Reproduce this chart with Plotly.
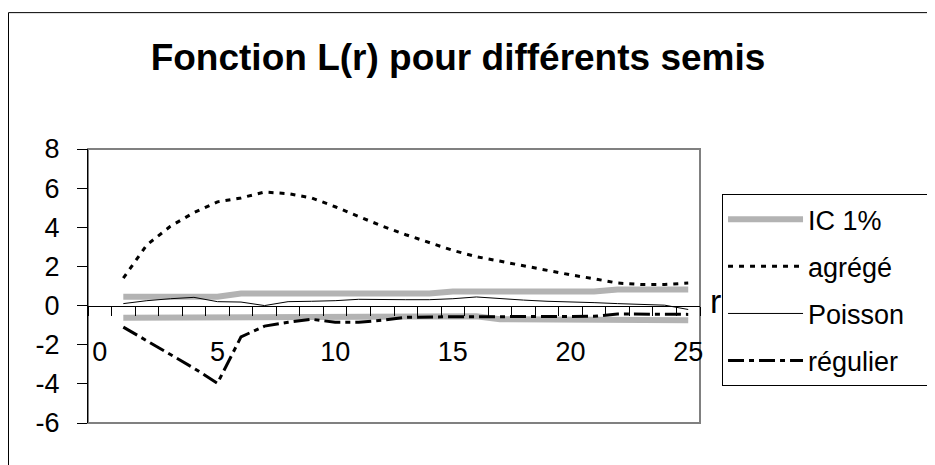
import plotly.graph_objects as go

# Données
r = list(range(1, 26))
ic_haut = [0.45, 0.45, 0.45, 0.45, 0.45, 0.62, 0.62, 0.62, 0.62, 0.62, 0.62, 0.62,
           0.62, 0.62, 0.72, 0.72, 0.72, 0.72, 0.72, 0.72, 0.72, 0.82, 0.82, 0.82, 0.82]
ic_bas = [-0.62, -0.62, -0.62, -0.62, -0.62, -0.55, -0.55, -0.55, -0.55, -0.55, -0.55,
          -0.55, -0.55, -0.55, -0.55, -0.55, -0.7, -0.7, -0.7, -0.7, -0.7, -0.7, -0.7,
          -0.72, -0.75]
agrege = [1.4, 3.1, 4.05, 4.75, 5.3, 5.5, 5.8, 5.72, 5.5, 5.05, 4.55, 4.06, 3.62,
          3.22, 2.82, 2.5, 2.27, 2.02, 1.78, 1.57, 1.37, 1.15, 1.08, 1.08, 1.15]
poisson = [0.1, 0.25, 0.35, 0.42, 0.2, 0.18, 0.0, 0.2, 0.22, 0.25, 0.32, 0.3, 0.3,
           0.3, 0.35, 0.44, 0.35, 0.28, 0.22, 0.2, 0.15, 0.1, 0.05, 0.02, -0.2]
regulier = [-1.1, -1.8, -2.5, -3.2, -3.97, -1.6, -1.05, -0.85, -0.7, -0.85, -0.85,
            -0.75, -0.6, -0.57, -0.57, -0.57, -0.57, -0.57, -0.57, -0.57, -0.55,
            -0.43, -0.43, -0.43, -0.45]
y_ticks = [-6, -4, -2, 0, 2, 4, 6, 8]
y_labels = ["-6", "-4", "-2", "0", "2", "4", "6", "8"]

FONTE = "Liberation Sans, Arial, sans-serif"
GRIS_IC = "#b3b3b3"
NBSP = "\u00a0"

fig = go.Figure()

# Bande haute de l'intervalle de confiance (porte l'axe x avec les libellés)
fig.add_trace(go.Scatter(x=r, y=ic_haut, mode="lines", name="IC 1%",
                         legendgroup="ic", line=dict(color=GRIS_IC, width=6)))

# Les autres séries sont sur le second axe x (graduations entre catégories)
fig.add_trace(go.Scatter(x=r, y=ic_bas, mode="lines", name="IC 1%",
                         legendgroup="ic", showlegend=False, xaxis="x2",
                         line=dict(color=GRIS_IC, width=6)))
fig.add_trace(go.Scatter(x=r, y=agrege, mode="lines", name="agrégé",
                         legendgroup="agrege", xaxis="x2",
                         line=dict(color="black", width=3, dash="5px,6px")))
fig.add_trace(go.Scatter(x=r, y=poisson, mode="lines", name="Poisson",
                         legendgroup="poisson", xaxis="x2",
                         line=dict(color="black", width=1)))
# espaces insécables : la boîte de légende déborde à droite comme sur l'original
fig.add_trace(go.Scatter(x=r, y=regulier, mode="lines", name="régulier" + NBSP * 4,
                         legendgroup="regulier", xaxis="x2",
                         line=dict(color="black", width=3, dash="16px,5px,5px,5px")))

fig.update_layout(
    width=935,
    height=465,
    margin=dict(l=80, r=243, t=141, b=50, autoexpand=False),
    paper_bgcolor="white",
    plot_bgcolor="white",
    font=dict(family=FONTE, size=27, color="black"),
    title=dict(
        text="<b>Fonction L(r) pour différents semis</b>",
        x=450 / 935, xanchor="center",
        y=1 - 49 / 465, yanchor="middle",
        font=dict(family=FONTE, size=37, color="black"),
    ),
    legend=dict(
        x=1.036, xanchor="left",
        y=0.835, yanchor="top",
        bordercolor="black", borderwidth=1,
        bgcolor="white",
        font=dict(family=FONTE, size=27),
        itemwidth=75,
        tracegroupgap=9,
    ),
    showlegend=True,
)

# Axe des x placé en y = 0 (libellés seulement)
fig.update_xaxes(
    range=[-0.5, 25.5],
    tickmode="linear", tick0=0, dtick=5,
    ticks="",
    showgrid=False, zeroline=False,
    showline=True, linecolor="black", linewidth=1,
    anchor="free", position=6 / 14,
    ticklabelstandoff=22,
)

# Second axe x superposé : graduations entre les catégories
fig.update_layout(
    xaxis2=dict(
        overlaying="x",
        range=[-0.5, 25.5],
        tickmode="linear", tick0=0.5, dtick=1,
        ticks="outside", ticklen=9, tickcolor="black", tickwidth=1,
        showticklabels=False,
        showgrid=False, zeroline=False, showline=False,
        anchor="free", position=6 / 14,
    )
)

fig.update_yaxes(
    range=[-6, 8],
    tickmode="array", tickvals=y_ticks, ticktext=y_labels,
    ticks="outside", ticklen=10, tickcolor="black",
    showgrid=False, zeroline=False,
    showline=True, linecolor="black", linewidth=1,
    ticklabelstandoff=12,
)

# Cadre gris de la zone de tracé
fig.add_shape(type="rect", xref="x domain", yref="y domain",
              x0=0, x1=1, y0=0, y1=1,
              line=dict(color="#808080", width=2), layer="below")

# Cadre noir du graphique (bords gauche et haut, le reste est coupé)
fig.add_shape(type="line", xref="paper", yref="paper",
              x0=-0.1299, x1=-0.1299, y0=-0.5, y1=1.4977,
              line=dict(color="black", width=1))
fig.add_shape(type="line", xref="paper", yref="paper",
              x0=-0.1299, x1=1.6, y0=1.4977, y1=1.4977,
              line=dict(color="black", width=1))

# Libellé de l'axe des x
fig.add_annotation(text="r", xref="paper", yref="y", x=1, y=0,
                   xanchor="left", yanchor="middle", xshift=8, yshift=5,
                   showarrow=False, font=dict(family=FONTE, size=34))

fig.write_html("out.html", config={"displayModeBar": False})
